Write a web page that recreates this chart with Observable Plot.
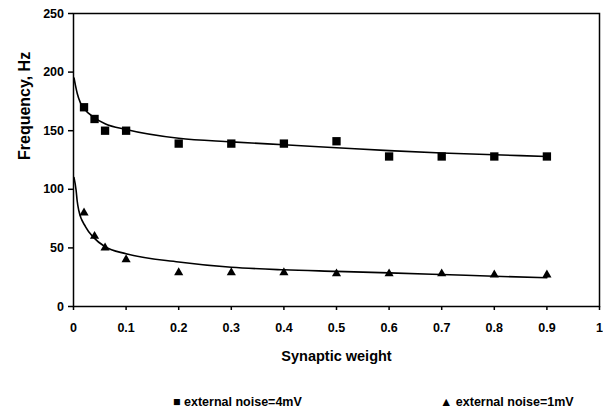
<!DOCTYPE html>
<html>
<head>
<meta charset="utf-8">
<script src="https://cdn.jsdelivr.net/npm/d3@7"></script>
<script src="https://cdn.jsdelivr.net/npm/@observablehq/plot@0.6"></script>
<style>
  html, body { margin: 0; padding: 0; background: #fff; }
  #chart { width: 603px; }
  .legend {
    font: bold 12.5px "Liberation Sans", Arial, sans-serif;
    color: #000;
    position: relative;
    height: 34px;
  }
  .legend span { position: absolute; top: 15px; white-space: nowrap; }
</style>
</head>
<body>
<div id="chart"></div>
<script>
// Measured firing frequency against synaptic weight, two noise levels
const weights = [0.02, 0.04, 0.06, 0.1, 0.2, 0.3, 0.4, 0.5, 0.6, 0.7, 0.8, 0.9];
const freqNoise4 = [170, 160, 150, 150, 139, 139, 139, 141, 128, 128, 128, 128];
const freqNoise1 = [80, 60, 50, 40, 29, 29, 29, 28, 28, 28, 27, 27];

// Trend curves through each series
const trendX4 = [0.001, 0.004, 0.007, 0.013, 0.02, 0.04, 0.06, 0.1, 0.2, 0.3, 0.4, 0.5, 0.6, 0.7, 0.8, 0.9];
const trendY4 = [195, 188, 182, 174, 169, 161, 156, 151, 143.5, 140.5, 138, 135.5, 133, 131, 129.5, 128];
const trendX1 = [0.001, 0.005, 0.007, 0.01, 0.023, 0.038, 0.06, 0.1, 0.2, 0.3, 0.4, 0.5, 0.6, 0.7, 0.8, 0.9];
const trendY1 = [110, 99, 90, 82, 68, 59, 51, 45, 38, 33.5, 31.3, 30, 28.7, 27.3, 25.8, 24.5];

const xTicks = [0, 0.1, 0.2, 0.3, 0.4, 0.5, 0.6, 0.7, 0.8, 0.9, 1];
const yTicks = [0, 50, 100, 150, 200, 250];

const pts4 = weights.map((x, i) => ({x, y: freqNoise4[i]}));
const pts1 = weights.map((x, i) => ({x, y: freqNoise1[i]}));
const line4 = trendX4.map((x, i) => ({x, y: trendY4[i]}));
const line1 = trendX1.map((x, i) => ({x, y: trendY1[i]}));

const fmt = d => String(d);

const chart = Plot.plot({
  width: 603,
  height: 380,
  marginLeft: 73,
  marginRight: 4,
  marginTop: 13,
  marginBottom: 74,
  style: {fontFamily: "'Liberation Sans', Arial, sans-serif", fontSize: "12.5px", fontWeight: "bold", color: "#000", background: "#fff"},
  x: {domain: [0, 1]},
  y: {domain: [0, 250]},
  marks: [
    Plot.frame({stroke: "#000", strokeWidth: 1.5}),
    Plot.axisX({ticks: xTicks, tickFormat: fmt, tickSize: 4, tickPadding: 12.5, label: null, strokeWidth: 1.5}),
    Plot.axisY({ticks: yTicks, tickSize: 5, tickPadding: 4.5, label: null, strokeWidth: 1.5}),
    Plot.text(["Synaptic weight"], {frameAnchor: "bottom", dy: 54, fontSize: 14.5, fontWeight: "bold"}),
    Plot.text(["Frequency, Hz"], {frameAnchor: "left", dx: -49, rotate: -90, fontSize: 16, fontWeight: "bold"}),
    Plot.line(line4, {x: "x", y: "y", curve: "monotone-x", stroke: "#000", strokeWidth: 1.6, clip: true}),
    Plot.line(line1, {x: "x", y: "y", curve: "monotone-x", stroke: "#000", strokeWidth: 1.6, clip: true}),
    Plot.dot(pts4, {x: "x", y: "y", symbol: "square", r: 4.7, fill: "#000", stroke: "none"}),
    Plot.dot(pts1, {x: "x", y: "y", symbol: "triangle", r: 3.4, fill: "#000", stroke: "none"})
  ]
});

const host = document.getElementById("chart");
host.appendChild(chart);

const legend = document.createElement("div");
legend.className = "legend";
legend.innerHTML =
  '<span style="left:173px">\u25A0 external noise=4mV</span>' +
  '<span style="left:440px">\u25B2 external noise=1mV</span>';
host.appendChild(legend);
</script>
</body>
</html>
